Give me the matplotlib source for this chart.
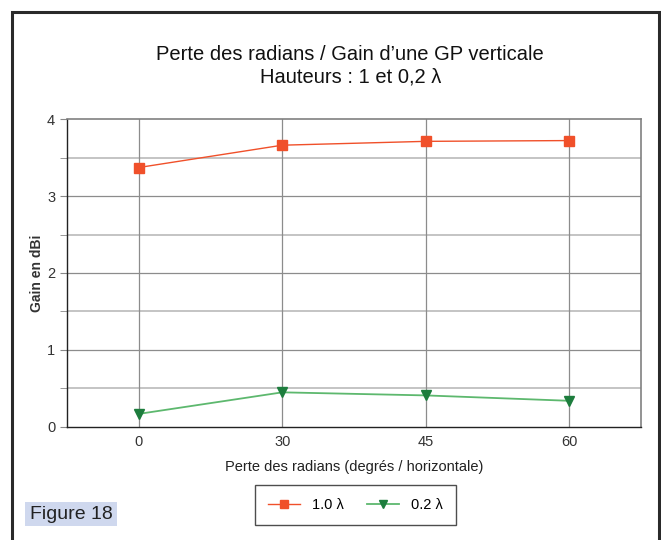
import numpy as np
import matplotlib
matplotlib.use("Agg")
import matplotlib.pyplot as plt
from matplotlib.patches import Rectangle

# Données : perte des radians (angle / horizontale) et gain en dBi
angles = ["0", "30", "45", "60"]
gain_10 = [3.37, 3.66, 3.71, 3.72]
gain_02 = [0.17, 0.45, 0.41, 0.34]
noms_series = ["1.0 λ", "0.2 λ"]

plt.rcParams['font.family'] = ['Liberation Sans', 'DejaVu Sans']

fig = plt.figure(figsize=(6.61, 5.40), dpi=100)
ax = fig.add_axes([0.1014, 0.2093, 0.8683, 0.5703])

x = np.arange(len(angles))
rouge = '#f0502a'
vert = '#1d7d3d'

# grille : lignes entières plus foncées, demi-valeurs plus claires
for v in np.arange(0.5, 4.0, 1.0):
    ax.axhline(v, color='#c4c4c4', lw=1.4, zorder=1)
for v in np.arange(1, 4, 1):
    ax.axhline(v, color='#8c8c8c', lw=0.9, zorder=1)
for xi in x:
    ax.axvline(xi, color='#8c8c8c', lw=0.9, zorder=1)

ax.plot(x, gain_10, color=rouge, lw=1.0, marker='s', markersize=7,
        markerfacecolor=rouge, markeredgecolor=rouge, label=noms_series[0], zorder=3)
ax.plot(x, gain_02, color='#5db86e', lw=1.3, marker='v', markersize=7,
        markerfacecolor=vert, markeredgecolor=vert, label=noms_series[1], zorder=3)

ax.set_xlim(-0.5, 3.5)
ax.set_ylim(0, 4)
ax.set_xticks(x)
ax.set_xticklabels(angles)
ax.set_yticks([0, 1, 2, 3, 4])
ax.set_yticks(np.arange(0.5, 4.0, 1.0), minor=True)
ax.tick_params(axis='y', which='both', length=5, color='#888888', labelsize=10.5,
               labelcolor='#333333')
ax.tick_params(axis='x', length=0, labelsize=10.5, labelcolor='#333333', pad=6)

for cote in ['top', 'right']:
    ax.spines[cote].set_color('#808080')
    ax.spines[cote].set_linewidth(1.2)
for cote in ['left', 'bottom']:
    ax.spines[cote].set_color('#222222')
    ax.spines[cote].set_linewidth(1.0)

ax.set_ylabel("Gain en dBi", fontsize=10, fontweight='bold', color='#333333', labelpad=2)
ax.set_xlabel("Perte des radians (degrés / horizontale)", fontsize=10.5, color='#222222',
              labelpad=8)

fig.text(0.53, 0.900, "Perte des radians / Gain d\u2019une GP verticale",
         ha='center', va='center', fontsize=14.5, color='#111111')
fig.text(0.53, 0.857, "Hauteurs : 1 et 0,2 λ",
         ha='center', va='center', fontsize=14.5, color='#111111')

leg = fig.legend(loc='center', bbox_to_anchor=(0.5377, 0.065), ncol=2, frameon=True,
                 fancybox=False, edgecolor='#222222', fontsize=10.5, handlelength=2.2,
                 columnspacing=1.6, borderpad=0.9, markerscale=0.85)
leg.get_frame().set_linewidth(1.0)

# cadre extérieur
fig.patches.append(Rectangle((12 / 661, -0.05), (659 - 12) / 661, 1.05 - 12 / 540,
                             transform=fig.transFigure, fill=False,
                             edgecolor='#2a2a2a', lw=2.2, zorder=0))

# étiquette de la figure
fig.patches.append(Rectangle((25 / 661, 1 - 526 / 540), 92 / 661, 24 / 540,
                             transform=fig.transFigure, facecolor='#cfd8ee',
                             edgecolor='none', zorder=0))
fig.text(71 / 661, 1 - 514.5 / 540, "Figure 18", ha='center', va='center', fontsize=14,
         color='#222222')

fig.savefig("out.png", dpi=100)
